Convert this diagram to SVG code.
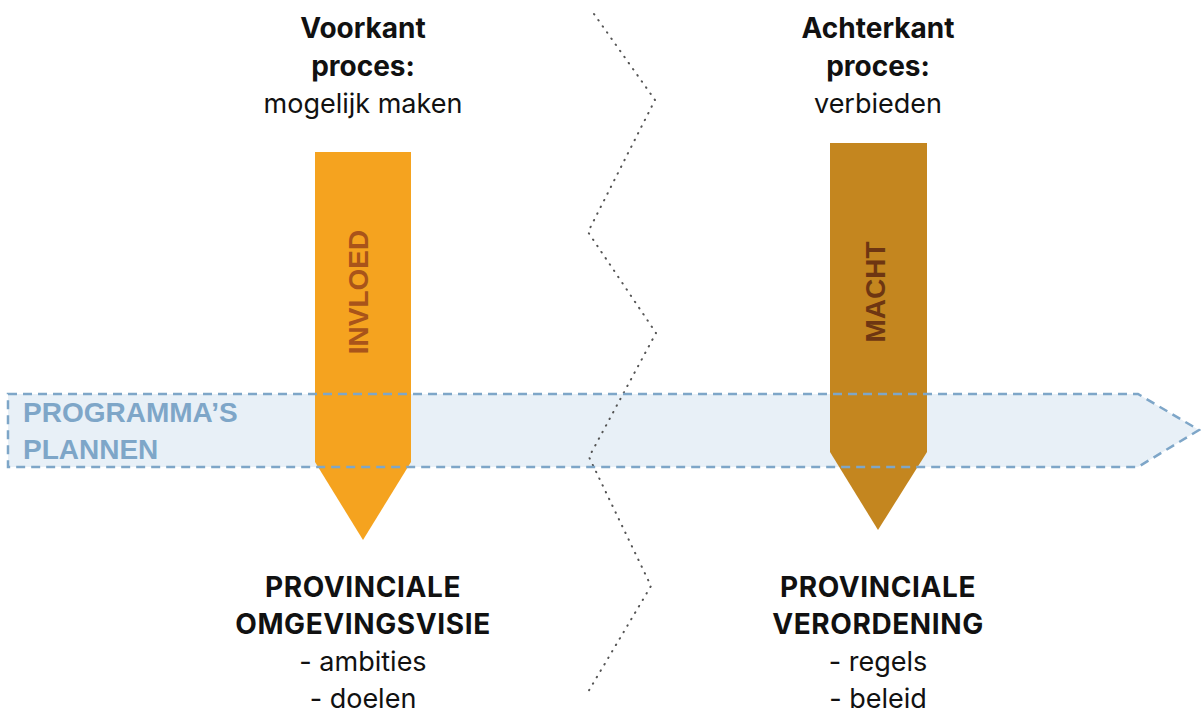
<svg xmlns="http://www.w3.org/2000/svg" width="1201" height="713" viewBox="0 0 1201 713">
<style>
.t{font-family:Inter,Roboto,"Liberation Sans",sans-serif;font-size:27px;fill:#111;text-anchor:middle}
.b{font-weight:bold;font-size:28px}
.u{letter-spacing:0.6px}
.v{font-family:"Liberation Sans",Arial,sans-serif;font-weight:bold;font-size:28px;text-anchor:middle}
.band{font-family:"Liberation Sans",Arial,sans-serif;font-weight:bold;font-size:28px;fill:#7ea6c8}
</style>
<rect width="1201" height="713" fill="#fff"/>
<g id="band-fill">
<polygon points="8,394 1138,394 1199,430 1138,467 8,467" fill="#e8f0f7"/>
</g>
<g id="divider">
<polyline points="594,14 655,100 588,232 656,333 589,457 651,586 588,692" fill="none" stroke="#555" stroke-width="2" stroke-linecap="round" stroke-dasharray="0.5 7"/>
</g>
<g id="invloed">
<polygon points="315,152 411,152 411,462 363,540 315,462" fill="#f5a31f"/>
<text class="v" transform="translate(368,292) rotate(-90)" fill="#a9541a">INVLOED</text>
</g>
<g id="macht">
<polygon points="830,143 927,143 927,452 878,530 830,452" fill="#c4861f"/>
<text class="v" transform="translate(885,292) rotate(-90)" fill="#6e3612">MACHT</text>
</g>
<g id="connectors">
<polygon points="8,394 1138,394 1199,430 1138,467 8,467" fill="none" stroke="#7ea6c8" stroke-width="2.5" stroke-dasharray="9 6"/>
</g>
<g id="programmas">
<text class="band" x="23" y="422">PROGRAMMA’S</text>
<text class="band" x="23" y="459">PLANNEN</text>
</g>
<g id="voorkant">
<text class="t b" x="363" y="38">Voorkant</text>
<text class="t b" x="363" y="76">proces:</text>
<text class="t" x="363" y="113">mogelijk maken</text>
</g>
<g id="achterkant">
<text class="t b" x="878" y="38">Achterkant</text>
<text class="t b" x="878" y="76">proces:</text>
<text class="t" x="878" y="113">verbieden</text>
</g>
<g id="omgevingsvisie">
<text class="t b u" x="363" y="597">PROVINCIALE</text>
<text class="t b u" x="363" y="634">OMGEVINGSVISIE</text>
<text class="t" x="363" y="671">- ambities</text>
<text class="t" x="363" y="708">- doelen</text>
</g>
<g id="verordening">
<text class="t b u" x="878" y="597">PROVINCIALE</text>
<text class="t b u" x="878" y="634">VERORDENING</text>
<text class="t" x="878" y="671">- regels</text>
<text class="t" x="878" y="708">- beleid</text>
</g>
</svg>
